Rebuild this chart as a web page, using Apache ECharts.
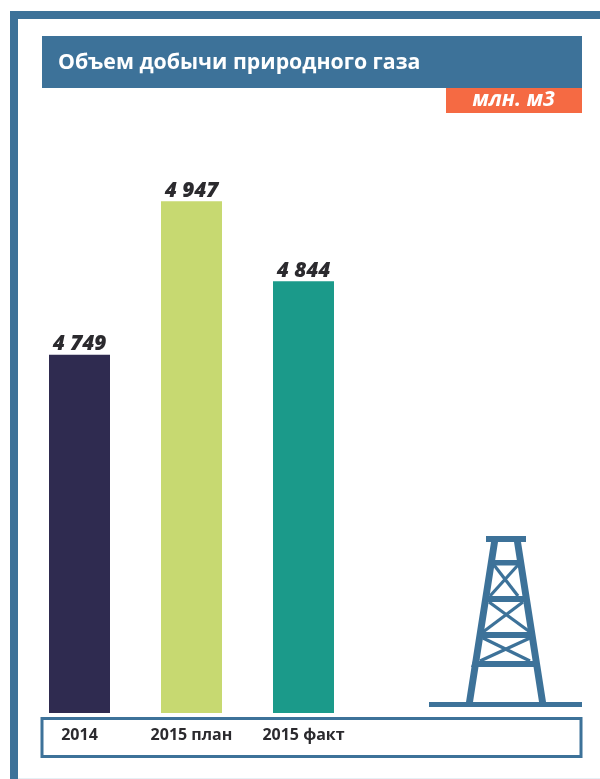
<!DOCTYPE html>
<html><head><meta charset="utf-8">
<style>html,body{margin:0;padding:0;background:#fff}#c{width:600px;height:779px}</style>
<script src="https://cdn.jsdelivr.net/npm/echarts@6/dist/echarts.min.js"></script>
</head><body><div id="c"></div>
<script>
const categories = ['2014', '2015 план', '2015 факт'];
const values = [4749, 4947, 4844];
const barColors = ['#2f2b50', '#c7d971', '#1b9a8a'];
const titleText = 'Объем добычи природного газа';
const unitText = 'млн. м3';

const BLUE = '#3d7299';
const FONT = '"Open Sans"';
const chart = echarts.init(document.getElementById('c'), null, {renderer: 'canvas'});

const rect = (x, y, w, h, fill) => ({type: 'rect', silent: true, shape: {x, y, width: w, height: h}, style: {fill}});
const poly = pts => ({type: 'polygon', silent: true, shape: {points: pts}, style: {fill: BLUE}});
const seg = (x1, y1, x2, y2, w) => ({type: 'line', silent: true, shape: {x1, y1, x2, y2}, style: {stroke: BLUE, lineWidth: w}});

const deco = [
  rect(10, 11, 590, 8, BLUE),
  rect(10, 11, 8, 768, BLUE),
  rect(18, 778, 582, 1, '#e6f0f5'),
  rect(42, 36, 540, 52, BLUE),
  rect(446, 88, 136, 25, '#f56a43'),
  {type: 'rect', silent: true, shape: {x: 42, y: 718.5, width: 539, height: 38}, style: {fill: 'none', stroke: BLUE, lineWidth: 3}},
  {type: 'text', silent: true, x: 58, y: 62.5, style: {text: titleText, fill: '#fff', font: 'bold 21.3px ' + FONT, textVerticalAlign: 'middle'}},
  {type: 'text', silent: true, x: 513.5, y: 100, style: {text: unitText, fill: '#fff', font: 'italic bold 21.3px ' + FONT, textAlign: 'center', textVerticalAlign: 'middle'}},
  rect(429, 702, 153, 5, BLUE),
  rect(486, 536, 40, 6, BLUE),
  poly([[491, 542], [498, 542], [473, 702], [466, 702]]),
  poly([[514, 542], [521, 542], [546, 702], [539, 702]]),
  rect(490, 560, 32, 5.5, BLUE),
  poly([[487, 596], [525, 596], [526, 602], [486, 602]]),
  poly([[480, 632], [531, 632], [532, 638], [479, 638]]),
  poly([[473, 661], [538, 661], [540, 667], [471, 667]]),
  seg(494, 565, 518, 596, 3.2),
  seg(518, 565, 490, 596, 3.2),
  seg(489, 602, 530, 632, 3.2),
  seg(523, 602, 483, 632, 3.2),
  seg(483, 638, 530, 661, 3.2),
  seg(530, 638, 480, 661, 3.2)
];

chart.setOption({
  animation: false,
  backgroundColor: '#fff',
  grid: {left: 23.5, width: 336, top: 197, bottom: 66},
  xAxis: {
    type: 'category', data: categories,
    axisLine: {show: false}, axisTick: {show: false},
    axisLabel: {margin: 14, fontFamily: FONT, fontWeight: 'bold', fontSize: 16, color: '#2b2a2e'}
  },
  yAxis: {type: 'value', min: 4287, max: 4952.5, show: false, splitLine: {show: false}},
  series: [{
    type: 'bar', barWidth: 61,
    data: values.map((v, i) => ({value: v, itemStyle: {color: barColors[i]}})),
    label: {
      show: true, position: 'top', distance: 0,
      fontFamily: FONT, fontStyle: 'italic', fontWeight: 800, fontSize: 20.8, color: '#2b2a2e',
      formatter: p => String(p.value).replace(/\B(?=(\d{3})+$)/g, ' ')
    }
  }],
  graphic: {elements: deco}
});
</script></body></html>
